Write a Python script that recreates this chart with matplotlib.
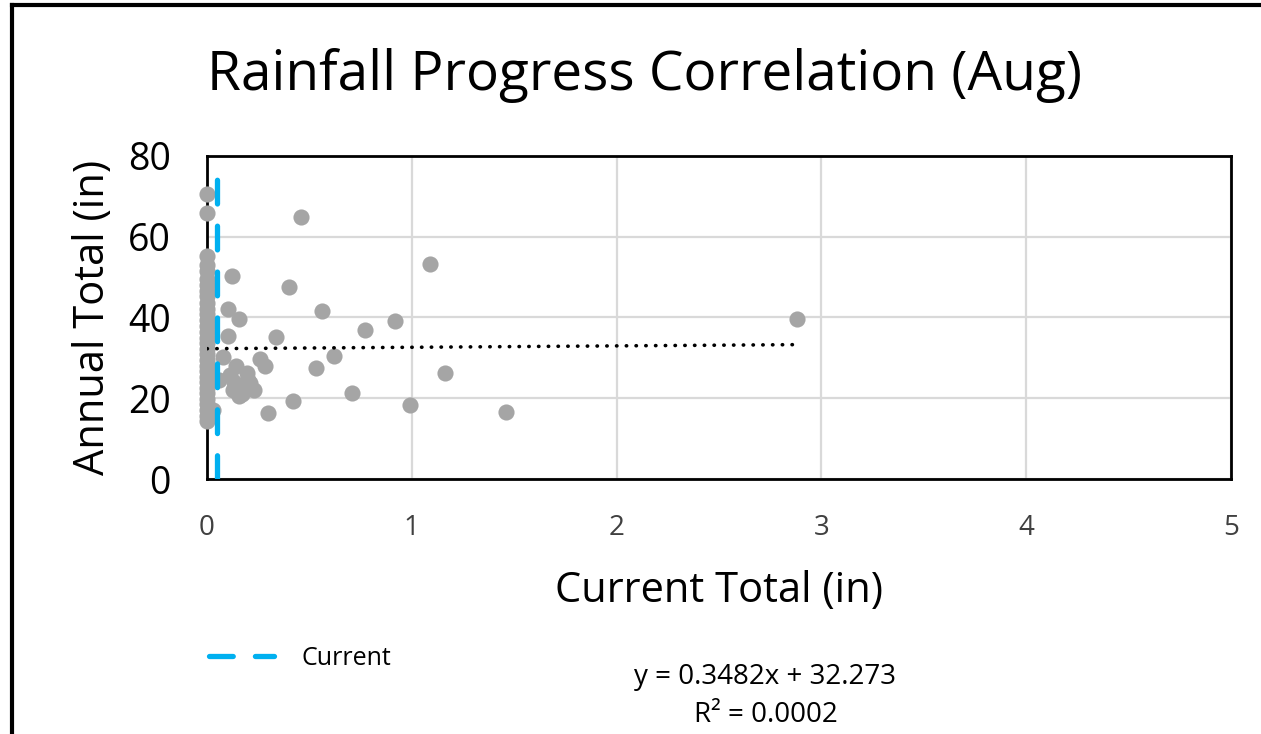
import matplotlib.pyplot as plt
from matplotlib.lines import Line2D
import numpy as np

plt.rcParams['font.family'] = ['Open Sans', 'DejaVu Sans']

# Points
current_total = [0, 0, 0, 0, 0, 0, 0, 0, 0, 0,
                 0, 0, 0, 0, 0, 0, 0, 0, 0, 0,
                 0, 0, 0, 0, 0, 0, 0, 0, 0, 0, 0,
                 0.12, 0.40, 0.46, 1.09, 0.56, 0.10, 0.155, 0.92, 0.77, 0.335,
                 0.10, 0.62, 0.26, 0.285, 0.53, 1.16, 0.195, 0.14, 0.08, 0.20,
                 0.19, 0.125, 0.06, 0.155, 0.71, 0.99, 1.46, 0.42, 0.30, 0.03,
                 2.88, 0.11, 0.17, 0.21, 0.23, 0.13]
annual_total = [70.6, 65.8, 55.2, 53.0, 51.4, 49.6, 48.1, 46.5, 45.2, 43.7,
                42.1, 40.8, 39.3, 38.0, 36.4, 35.0, 33.6, 32.1, 30.9, 29.4,
                28.0, 26.7, 25.3, 24.0, 22.6, 21.2, 19.8, 18.5, 17.0, 15.6, 14.3,
                50.2, 47.5, 65.0, 53.2, 41.6, 42.1, 39.6, 39.1, 37.0, 35.2,
                35.3, 30.4, 29.6, 28.1, 27.5, 26.3, 26.3, 27.9, 30.3, 24.6,
                22.9, 22.1, 24.6, 20.6, 21.3, 18.4, 16.7, 19.2, 16.3, 17.1,
                39.6, 25.8, 21.0, 23.8, 22.0, 24.0]

current_value = 0.05
current_span = [0, 75]

# trendline as printed on the chart
trend_slope = 0.3482
trend_intercept = 32.273
r_squared = 0.0002

x = np.array(current_total)
y = np.array(annual_total)

fig = plt.figure(figsize=(12.61, 7.34), dpi=100)
ax = fig.add_axes([0.1642, 0.3474, 0.812, 0.4401])

ax.scatter(x, y, s=135, color='#A5A5A5', zorder=3, linewidths=0, clip_on=False)

tx = np.array([x.min(), x.max()])
ax.plot(tx, trend_slope * tx + trend_intercept, color='black', lw=2.6,
        linestyle=(0, (0.1, 2.6)), dash_capstyle='round', zorder=4)

ax.plot([current_value, current_value], current_span, color='#00B0F0', lw=3.8,
        linestyle=(0, (4.5, 4.2)), dash_capstyle='round', zorder=5)

ax.set_xlim(0, 5)
ax.set_ylim(0, 80)
ax.set_xticks([0, 1, 2, 3, 4, 5])
ax.set_yticks([0, 20, 40, 60, 80])
ax.grid(color='#D9D9D9', lw=1.6, zorder=0)
ax.set_axisbelow(True)
for s in ax.spines.values():
    s.set_linewidth(2.0)
    s.set_color('black')
ax.tick_params(length=0)
ax.tick_params(axis='y', labelsize=27, labelcolor='black', pad=26)
ax.tick_params(axis='x', labelsize=20, labelcolor='#404040', pad=25)

ax.set_xlabel('Current Total (in)', fontsize=30, labelpad=20)
ax.set_ylabel('Annual Total (in)', fontsize=30, labelpad=10)

fig.text(0.511, 0.897, 'Rainfall Progress Correlation (Aug)', fontsize=39.5,
         ha='center', va='center')

handle = Line2D([], [], color='#00B0F0', lw=3.8, linestyle=(0, (4.5, 4.2)),
                dash_capstyle='round')
fig.legend([handle], ['Current'], loc='center left',
           bbox_to_anchor=(0.148, 0.103), frameon=False, fontsize=18,
           handlelength=2.6, handletextpad=1.1)

fig.text(0.607, 0.077, 'y = %.4fx + %.3f' % (trend_slope, trend_intercept),
         fontsize=20, ha='center', va='center')
fig.text(0.607, 0.026, 'R² = %.4f' % r_squared, fontsize=20, ha='center', va='center')

# outer frame (only left and top visible in the crop)
fig.add_artist(Line2D([0.0095, 0.0095], [0, 0.993], color='black', lw=3))
fig.add_artist(Line2D([0.0095, 1.0], [0.993, 0.993], color='black', lw=3))

fig.savefig('out.png', dpi=100)
